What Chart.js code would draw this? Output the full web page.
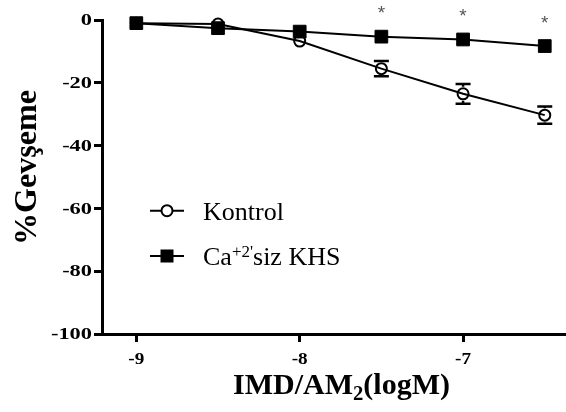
<!DOCTYPE html>
<html>
<head>
<meta charset="utf-8">
<script src="https://cdn.jsdelivr.net/npm/chart.js@4.4.1/dist/chart.umd.min.js"></script>
<style>
  body { margin: 0; background: #fff; }
  #chartCanvas { display: block; }
</style>
</head>
<body>
<canvas id="chartCanvas" width="566" height="412"></canvas>
<script>
var canvas = document.getElementById("chartCanvas");

// log molar concentration and % relaxation
var doses = [-9, -8.5, -8, -7.5, -7, -6.5];
var kontrolMean = [-1.0, -1.3, -6.7, -15.5, -23.5, -30.3];
var kontrolSem = [0.4, 0.5, 0.8, 2.45, 3.15, 2.75];
var caFreeMean = [-1.0, -2.6, -3.7, -5.3, -6.2, -8.3];
var significance = ["", "", "", "*", "*", "*"];

var xTicks = [-9, -8, -7];
var yTicks = [0, -20, -40, -60, -80, -100];

var yTitle = "%Gevşeme";
var xTitleMain = "IMD/AM";
var xTitleSub = "2";
var xTitleEnd = "(logM)";

var legendMain = ["Kontrol", "Ca"];
var legendSup = ["", "+2'"];
var legendRest = ["", "siz KHS"];

var SERIF = '"Liberation Serif", "Times New Roman", serif';

function points(values) {
  return doses.map(function (d, i) { return { x: d, y: values[i] }; });
}

// draws text squeezed/stretched along its baseline
function stretchText(ctx, text, x, y, sx, align) {
  var w = ctx.measureText(text).width * sx;
  var left = x;
  if (align === "right") left = x - w;
  if (align === "center") left = x - w / 2;
  ctx.save();
  ctx.translate(left, y);
  ctx.scale(sx, 1);
  ctx.textAlign = "left";
  ctx.fillText(text, 0, 0);
  ctx.restore();
  return w;
}

var errorBars = {
  id: "errorBars",
  beforeDatasetsDraw: function (chart) {
    var ctx = chart.ctx;
    var xs = chart.scales.x, ys = chart.scales.y;
    var r = 7, cap = 7.5;
    ctx.save();
    ctx.strokeStyle = "#000";
    ctx.lineWidth = 2.5;
    for (var i = 0; i < doses.length; i++) {
      var x = xs.getPixelForValue(doses[i]);
      var yc = ys.getPixelForValue(kontrolMean[i]);
      var yt = ys.getPixelForValue(kontrolMean[i] + kontrolSem[i]);
      var yb = ys.getPixelForValue(kontrolMean[i] - kontrolSem[i]);
      if (yb - yc <= r) continue;
      ctx.beginPath();
      ctx.moveTo(x, yt); ctx.lineTo(x, yc - r);
      ctx.moveTo(x, yc + r); ctx.lineTo(x, yb);
      ctx.moveTo(x - cap, yt); ctx.lineTo(x + cap, yt);
      ctx.moveTo(x - cap, yb); ctx.lineTo(x + cap, yb);
      ctx.stroke();
    }
    ctx.restore();
  }
};

var labels = {
  id: "labels",
  afterDraw: function (chart) {
    var ctx = chart.ctx;
    var xs = chart.scales.x, ys = chart.scales.y;
    ctx.save();
    ctx.fillStyle = "#000";

    // tick labels
    ctx.font = "bold 16px " + SERIF;
    ctx.textBaseline = "middle";
    ys.ticks.forEach(function (t) {
      stretchText(ctx, String(t.value), 92, ys.getPixelForValue(t.value) + 1, 1.4, "right");
    });
    ctx.font = "bold 16px " + SERIF;
    xs.ticks.forEach(function (t) {
      stretchText(ctx, String(t.value), xs.getPixelForValue(t.value), 360, 1.2, "center");
    });

    // x axis title with subscript
    ctx.textBaseline = "alphabetic";
    var mainFont = "bold 29px " + SERIF, subFont = "bold 20px " + SERIF;
    ctx.font = mainFont;
    var w1 = ctx.measureText(xTitleMain).width, w3 = ctx.measureText(xTitleEnd).width;
    ctx.font = subFont;
    var w2 = ctx.measureText(xTitleSub).width;
    var sx = 217 / (w1 + w2 + w3);
    var tx = 341.5 - 217 / 2, base = 394;
    ctx.font = mainFont;
    tx += stretchText(ctx, xTitleMain, tx, base, sx, "left");
    ctx.font = subFont;
    tx += stretchText(ctx, xTitleSub, tx, base + 6, sx, "left");
    ctx.font = mainFont;
    stretchText(ctx, xTitleEnd, tx, base, sx, "left");

    // y axis title
    ctx.font = "bold 31px " + SERIF;
    var yw = ctx.measureText(yTitle).width;
    ctx.save();
    ctx.translate(36, 167.5);
    ctx.rotate(-Math.PI / 2);
    stretchText(ctx, yTitle, 0, 0, 155 / yw, "center");
    ctx.restore();

    // significance marks above the Ca-free squares
    ctx.font = "19px \"Liberation Sans\", Arial, sans-serif";
    ctx.fillStyle = "#555";
    ctx.textAlign = "center";
    ctx.textBaseline = "alphabetic";
    significance.forEach(function (s, i) {
      if (!s) return;
      var m = ctx.measureText(s);
      var cy = ys.getPixelForValue(caFreeMean[i]) - 27;
      var off = (m.actualBoundingBoxAscent - m.actualBoundingBoxDescent) / 2;
      ctx.fillText(s, xs.getPixelForValue(doses[i]), cy + off);
    });

    // legend
    var rows = [210.7, 256];
    ctx.strokeStyle = "#000";
    ctx.fillStyle = "#000";
    rows.forEach(function (ry, i) {
      ctx.lineWidth = 2;
      ctx.beginPath();
      ctx.moveTo(150, ry); ctx.lineTo(184, ry);
      ctx.stroke();
      if (i === 0) {
        ctx.beginPath();
        ctx.arc(167, ry, 5.5, 0, Math.PI * 2);
        ctx.fillStyle = "#fff";
        ctx.fill();
        ctx.stroke();
        ctx.fillStyle = "#000";
      } else {
        ctx.fillRect(167 - 6.5, ry - 6.5, 13, 13);
      }
      ctx.textAlign = "left";
      ctx.font = "26px " + SERIF;
      var lx = 203;
      ctx.fillText(legendMain[i], lx, ry + 9);
      lx += ctx.measureText(legendMain[i]).width;
      if (legendSup[i]) {
        ctx.font = "17px " + SERIF;
        ctx.fillText(legendSup[i], lx, ry + 1);
        lx += ctx.measureText(legendSup[i]).width;
        ctx.font = "26px " + SERIF;
        ctx.fillText(legendRest[i], lx, ry + 9);
      }
    });
    ctx.restore();
  }
};

var axisStyle = {
  ticks: { display: false },
  grid: {
    display: true,
    drawOnChartArea: false,
    drawTicks: true,
    tickLength: 8,
    lineWidth: 3,
    color: "#000"
  },
  border: { display: true, color: "#000", width: 3 }
};

var sensorChart = new Chart(canvas, {
  type: "line",
  data: {
    datasets: [
      {
        label: "Kontrol",
        data: points(kontrolMean),
        borderColor: "#000",
        borderWidth: 2,
        pointStyle: "circle",
        pointRadius: 5.5,
        pointBorderWidth: 2,
        pointBackgroundColor: "rgba(0,0,0,0)",
        pointBorderColor: "#000",
        clip: false,
        order: 1
      },
      {
        label: "Ca+2'siz KHS",
        data: points(caFreeMean),
        borderColor: "#000",
        borderWidth: 2,
        pointStyle: "rect",
        pointRadius: 9,
        pointBorderWidth: 1,
        pointBackgroundColor: "#000",
        pointBorderColor: "#000",
        clip: false,
        order: 0
      }
    ]
  },
  options: {
    responsive: false,
    animation: false,
    events: [],
    elements: { line: { tension: 0 } },
    layout: { autoPadding: false, padding: { left: 94, right: 0, top: 20, bottom: 70 } },
    plugins: { legend: { display: false }, tooltip: { enabled: false } },
    scales: {
      x: Object.assign({
        type: "linear",
        min: -9.21,
        max: -6.37,
        afterBuildTicks: function (s) { s.ticks = xTicks.map(function (v) { return { value: v }; }); }
      }, axisStyle),
      y: Object.assign({
        type: "linear",
        min: -100,
        max: 0,
        afterBuildTicks: function (s) { s.ticks = yTicks.map(function (v) { return { value: v }; }); }
      }, axisStyle)
    }
  },
  plugins: [errorBars, labels]
});
</script>
</body>
</html>
